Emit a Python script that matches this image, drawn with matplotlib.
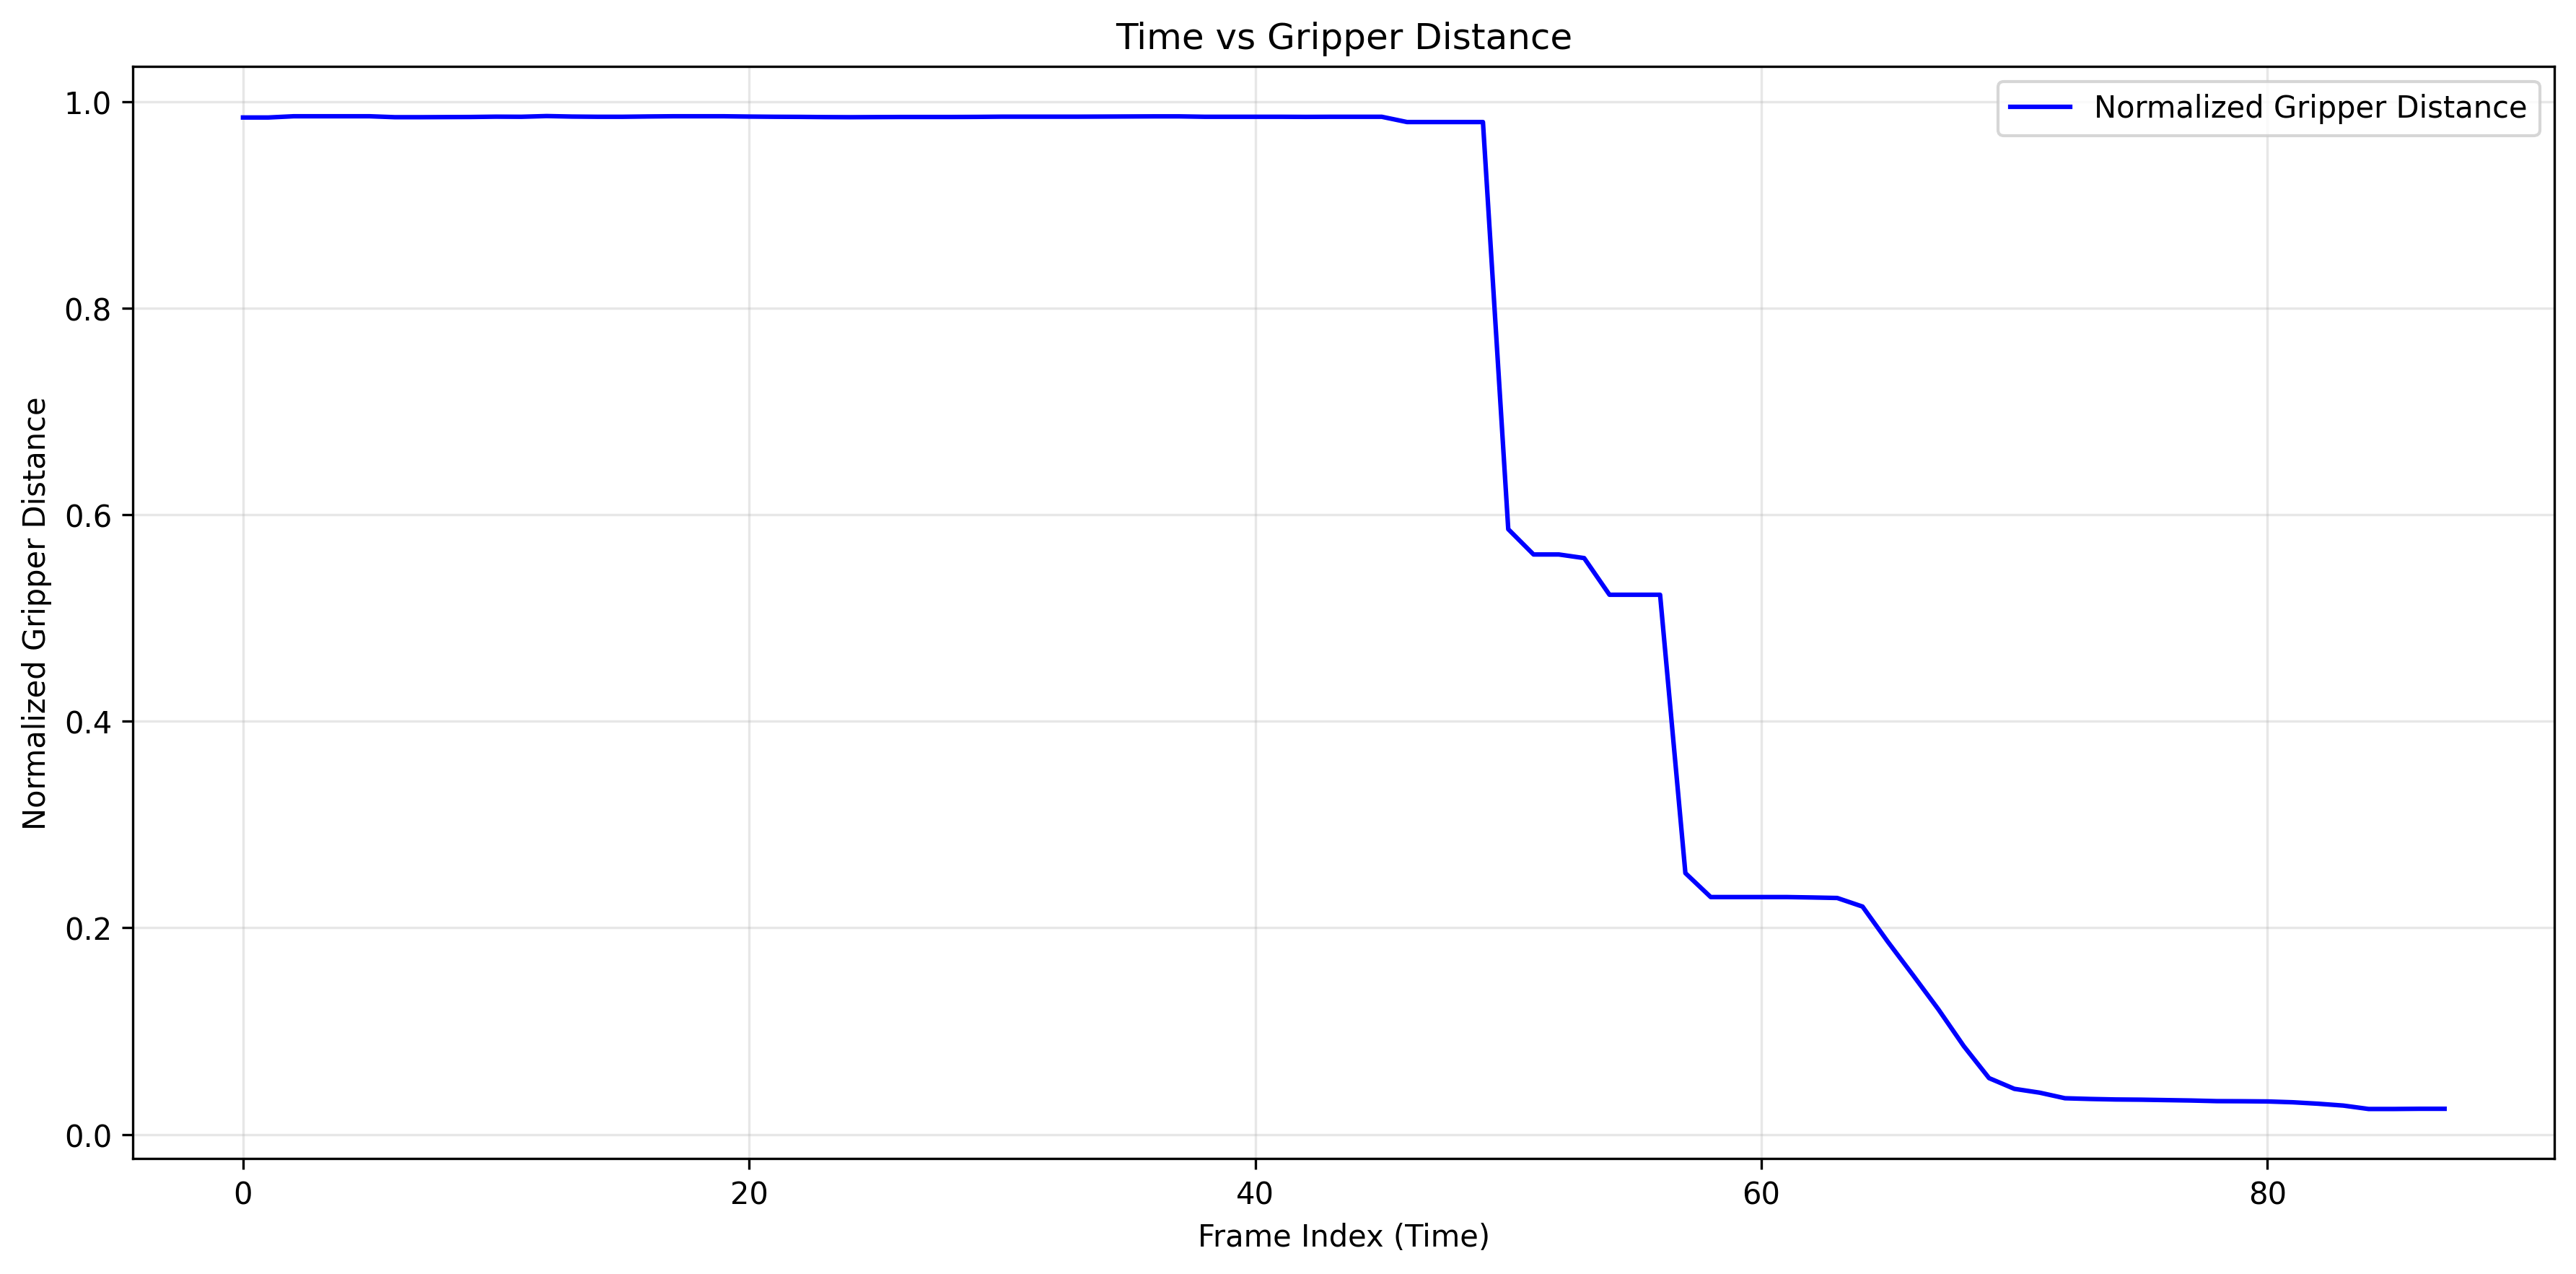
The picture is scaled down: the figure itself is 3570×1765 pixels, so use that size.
import matplotlib
matplotlib.use('Agg')
import matplotlib.pyplot as plt
import numpy as np

# ================== 数据 ==================
frame_idx = np.arange(88)

gripper_dist = [
    # 0 - 9
    0.9846, 0.9846, 0.9858, 0.9858, 0.9858, 0.9858, 0.9849, 0.9849, 0.9850, 0.9851,
    # 10 - 19
    0.9854, 0.9853, 0.9860, 0.9855, 0.9853, 0.9853, 0.9856, 0.9858, 0.9858, 0.9858,
    # 20 - 29
    0.9855, 0.9853, 0.9852, 0.9850, 0.9849, 0.9850, 0.9851, 0.9851, 0.9851, 0.9852,
    # 30 - 39
    0.9854, 0.9854, 0.9854, 0.9854, 0.9855, 0.9856, 0.9857, 0.9857, 0.9853, 0.9853,
    # 40 - 49
    0.9853, 0.9853, 0.9852, 0.9853, 0.9853, 0.9853, 0.9802, 0.9802, 0.9802, 0.9802,
    # 50 - 59
    0.5860, 0.5615, 0.5615, 0.5580, 0.5225, 0.5225, 0.5225, 0.2530, 0.2298, 0.2298,
    # 60 - 69
    0.2298, 0.2298, 0.2294, 0.2289, 0.2206, 0.1865, 0.1540, 0.1210, 0.0855, 0.0545,
    # 70 - 79
    0.0441, 0.0404, 0.0350, 0.0343, 0.0338, 0.0336, 0.0332, 0.0328, 0.0322, 0.0321,
    # 80 - 87
    0.0319, 0.0311, 0.0297, 0.0279, 0.0246, 0.0246, 0.0248, 0.0248,
]

# ================== 绘图 ==================
fig, ax = plt.subplots(figsize=(12, 6))
ax.plot(frame_idx, gripper_dist, color='blue', linewidth=1.5,
        label='Normalized Gripper Distance')

ax.set_xlabel('Frame Index (Time)')
ax.set_ylabel('Normalized Gripper Distance')
ax.set_title('Time vs Gripper Distance')
ax.grid(True, alpha=0.3)
ax.legend(loc='upper right')

fig.tight_layout()
fig.savefig('out.png', dpi=300, bbox_inches='tight')
